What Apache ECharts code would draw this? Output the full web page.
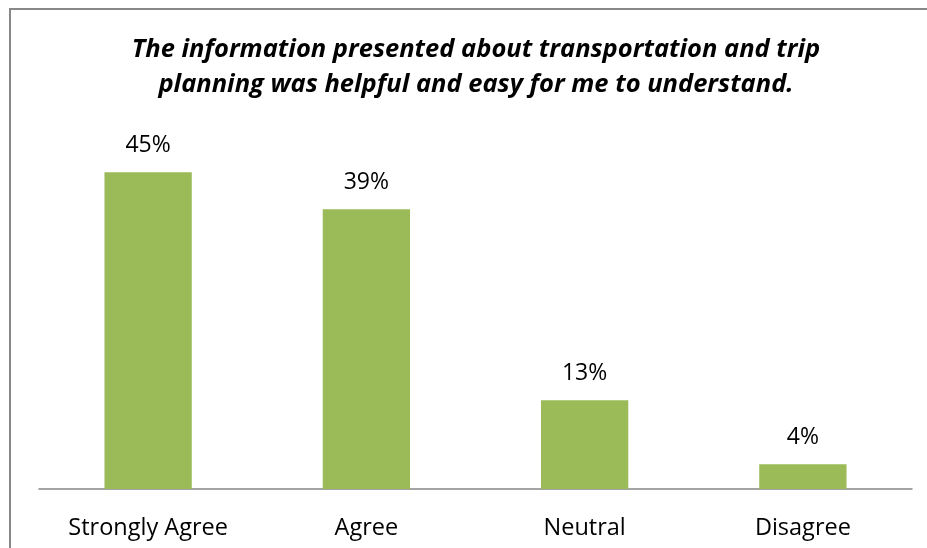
<!DOCTYPE html>
<html>
<head>
<meta charset="utf-8">
<script src="https://cdn.jsdelivr.net/npm/echarts@6/dist/echarts.min.js"></script>
<style>
html,body{margin:0;padding:0;background:#fff;}
#chart{width:927px;height:548px;}
</style>
</head>
<body>
<div id="chart"></div>
<script>
var titleText = "The information presented about transportation and trip\nplanning was helpful and easy for me to understand.";
var categories = ["Strongly Agree", "Agree", "Neutral", "Disagree"];
var values = [44.6, 39.4, 12.5, 3.5];

var chart = echarts.init(document.getElementById('chart'));
chart.setOption({
  animation: false,
  backgroundColor: '#fff',
  title: {
    text: titleText,
    left: 471,
    top: 27,
    textAlign: 'center',
    textStyle: {
      fontFamily: 'Open Sans',
      fontStyle: 'italic',
      fontWeight: 'bold',
      fontSize: 25.5,
      lineHeight: 35,
      color: '#000'
    }
  },
  graphic: [{
    type: 'rect',
    shape: {x: 10, y: 9, width: 1000, height: 1000},
    style: {fill: 'none', stroke: '#888888', lineWidth: 2},
    silent: true
  }],
  grid: {left: 39, right: 15, top: 134, bottom: 59},
  xAxis: {
    type: 'category',
    data: categories,
    axisLine: {lineStyle: {color: '#868686', width: 1.5}},
    axisTick: {show: false},
    axisLabel: {
      color: '#000',
      fontFamily: 'Open Sans',
      fontSize: 23.5,
      margin: 27
    }
  },
  yAxis: {
    type: 'value',
    min: 0,
    max: 50,
    show: false,
    splitLine: {show: false}
  },
  series: [{
    type: 'bar',
    data: values,
    barWidth: '40%',
    itemStyle: {color: '#9BBB59'},
    label: {
      show: true,
      position: 'top',
      distance: 15,
      color: '#000',
      fontFamily: 'Open Sans',
      fontSize: 23,
      formatter: function (p) { return Math.round(p.value) + '%'; }
    }
  }]
});
</script>
</body>
</html>
